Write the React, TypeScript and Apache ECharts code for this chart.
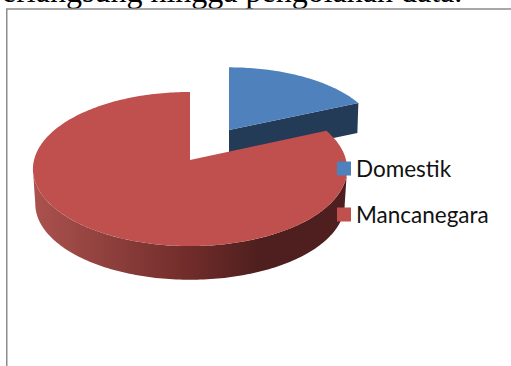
import React, { useEffect, useRef } from "react";
import * as echarts from "echarts";

const categories = ["Domestik", "Mancanegara"];
const shares = [18.4, 81.6];
const topColors = ["#4f81bd", "#c0504d"];
const bodyLine = "erlangsung hingga pengolahan data.";

type Disc = { x0: number; y0: number; a: number; b: number; k: number };

// Perspective view of a flat disc: theta runs clockwise from the far side.
const project = (d: Disc, theta: number, drop = 0, scale = 1) => {
  const w = 1 + d.k * Math.cos(theta);
  return [
    d.x0 + (scale * d.b * Math.sin(theta)) / w,
    d.y0 + drop - (scale * d.a * Math.cos(theta)) / w,
  ];
};

const sweep = (d: Disc, from: number, to: number, drop = 0, scale = 1) => {
  const steps = Math.max(2, Math.ceil(Math.abs(to - from) / 0.02));
  const out: number[][] = [];
  for (let i = 0; i <= steps; i++) {
    out.push(project(d, from + ((to - from) * i) / steps, drop, scale));
  }
  return out;
};

const blueDisc: Disc = { x0: 229, y0: 130, a: 70, b: 148, k: 0.117 };
const redDisc: Disc = { x0: 190, y0: 160, a: 76, b: 156, k: 0.117 };
const blueDepth = 30;
const redDepth = 35;
const redFootScale = 0.985;

const renderDomestik = (_p: any, api: any) => {
  const end = (api.value(0) / (shares[0] + shares[1])) * Math.PI * 2;
  const apex = [blueDisc.x0, blueDisc.y0];
  const rimEnd = project(blueDisc, end);
  return {
    type: "group",
    children: [
      {
        type: "polygon",
        shape: {
          points: [
            apex,
            rimEnd,
            [rimEnd[0] - 1, rimEnd[1] + blueDepth],
            [apex[0], apex[1] + blueDepth],
          ],
        },
        style: { fill: "#243b58" },
      },
      {
        type: "polygon",
        shape: { points: [apex, ...sweep(blueDisc, 0, end)] },
        style: { fill: topColors[0] },
      },
    ],
  };
};

const renderMancanegara = (_p: any, api: any) => {
  const start = ((shares[0] + shares[1] - api.value(0)) / (shares[0] + shares[1])) * Math.PI * 2;
  const edge = Math.acos(-redDisc.k);
  const wallTop = sweep(redDisc, edge, Math.PI * 2 - edge);
  const wallFoot = sweep(redDisc, edge, Math.PI * 2 - edge, redDepth, redFootScale).reverse();
  return {
    type: "group",
    children: [
      {
        type: "polygon",
        shape: { points: [...wallTop, ...wallFoot] },
        style: {
          fill: new echarts.graphic.LinearGradient(0, 0, 1, 0, [
            { offset: 0, color: "#ab524e" },
            { offset: 0.5, color: "#702c2a" },
            { offset: 0.72, color: "#4e1f1e" },
            { offset: 1, color: "#4e1f1e" },
          ]),
        },
      },
      {
        type: "polygon",
        shape: {
          points: [[redDisc.x0, redDisc.y0], ...sweep(redDisc, start, Math.PI * 2)],
        },
        style: { fill: topColors[1] },
      },
    ],
  };
};

export default function App() {
  const ref = useRef<HTMLDivElement>(null);

  useEffect(() => {
    if (!ref.current) return;
    const chart = echarts.init(ref.current, undefined, { renderer: "svg" });
    chart.setOption({
      animation: false,
      backgroundColor: "#ffffff",
      legend: {
        orient: "vertical",
        left: 337,
        top: 157,
        padding: 0,
        itemWidth: 14,
        itemHeight: 14,
        itemGap: 23,
        icon: "rect",
        data: categories,
        textStyle: { fontFamily: "Lato", fontSize: 22.5, color: "#111111" },
      },
      graphic: [
        {
          type: "text",
          x: 2,
          y: -25,
          style: {
            text: bodyLine,
            font: '32px "Liberation Serif"',
            fill: "#000000",
          },
        },
        {
          type: "polyline",
          shape: { points: [[6.75, 366], [6.75, 9], [511, 9]] },
          style: { stroke: "#8c8c8c", lineWidth: 1.5, fill: "none" },
        },
      ],
      series: [
        {
          type: "custom",
          name: categories[0],
          coordinateSystem: "none",
          data: [[shares[0]]],
          itemStyle: { color: topColors[0] },
          renderItem: renderDomestik,
          silent: true,
        },
        {
          type: "custom",
          name: categories[1],
          coordinateSystem: "none",
          data: [[shares[1]]],
          itemStyle: { color: topColors[1] },
          renderItem: renderMancanegara,
          silent: true,
        },
      ],
    });
    return () => chart.dispose();
  }, []);

  return (
    <div
      ref={ref}
      style={{ position: "absolute", left: 0, top: 0, width: 511, height: 366 }}
    />
  );
}
